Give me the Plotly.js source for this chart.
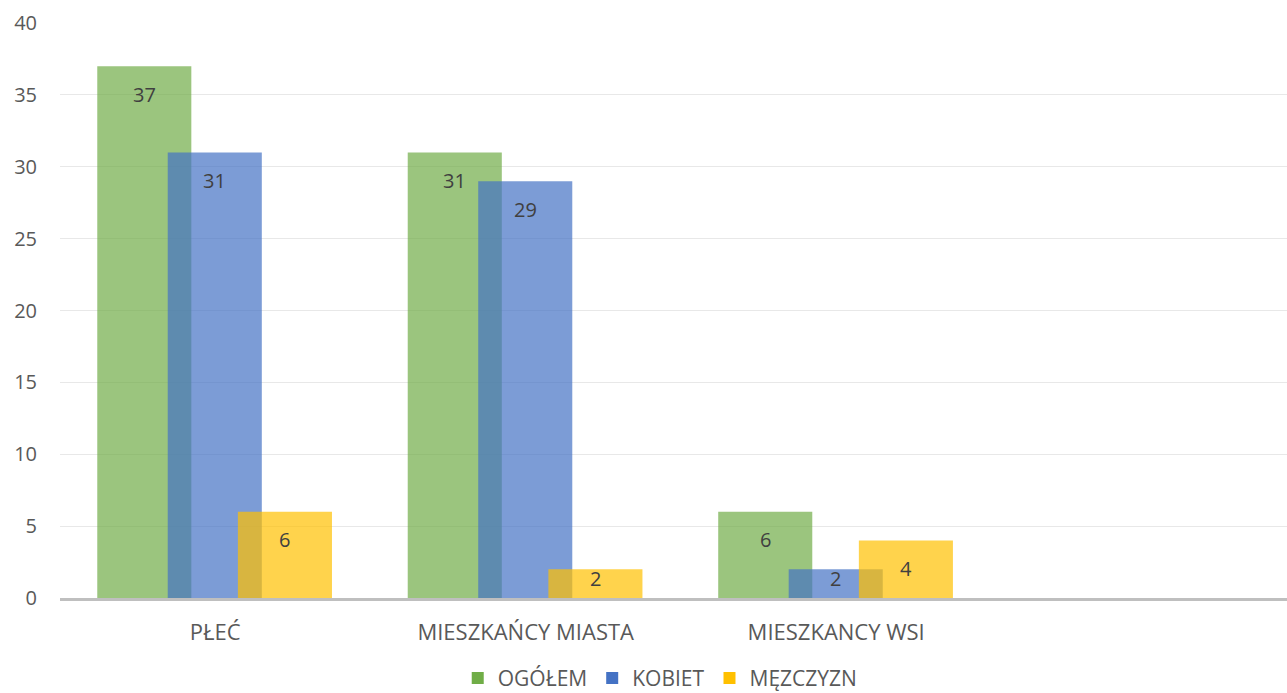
<!DOCTYPE html>
<html>
<head>
<meta charset="utf-8">
<script src="https://cdn.plot.ly/plotly-3.0.1.min.js"></script>
<style>
  html, body { margin: 0; padding: 0; background: #ffffff; }
  #chart { width: 1287px; height: 693px; }
</style>
</head>
<body>
<div id="chart"></div>
<script>
const categories = ['PŁEĆ', 'MIESZKAŃCY MIASTA', 'MIESZKANCY WSI'];
const seriesNames = ['OGÓŁEM', 'KOBIET', 'MĘZCZYZN'];
const ogolem = [37, 31, 6];
const kobiet = [31, 29, 2];
const mezczyzn = [6, 2, 4];
const yTicks = [0, 5, 10, 15, 20, 25, 30, 35, 40];

const seriesValues = [ogolem, kobiet, mezczyzn];
const colors = ['#70AD47', '#4472C4', '#FFC000'];
const barWidth = 0.303;
const offsets = [-0.380, -0.153, 0.073];
const FONT = '"Open Sans", "Noto Sans", sans-serif';

const traces = seriesValues.map((vals, s) => ({
  type: 'bar',
  name: seriesNames[s],
  x: categories,
  y: vals,
  width: barWidth,
  offset: offsets[s],
  marker: { color: colors[s], opacity: 0.7, line: { width: 0 } },
  hoverinfo: 'x+y+name'
}));

const plotH = 693 - 23 - 95;
const yMax = 40;
const annotations = [];
seriesValues.forEach((vals, s) => {
  vals.forEach((v, i) => {
    const hPx = v / yMax * plotH;
    const shift = Math.min(28, hPx - 20);
    annotations.push({
      x: i + offsets[s] + barWidth / 2,
      y: v,
      xref: 'x', yref: 'y',
      text: String(v),
      showarrow: false,
      yanchor: 'middle',
      yshift: -shift,
      font: { family: FONT, size: 20, color: '#404040' }
    });
  });
});

const layout = {
  width: 1287,
  height: 693,
  margin: { l: 60, r: 0, t: 23, b: 95, autoexpand: false },
  paper_bgcolor: '#ffffff',
  plot_bgcolor: '#ffffff',
  barmode: 'overlay',
  showlegend: true,
  legend: {
    orientation: 'h',
    x: 0.513, xanchor: 'center', xref: 'container',
    y: 0.021, yanchor: 'middle', yref: 'container',
    font: { family: FONT, size: 21, color: '#595959' },
    itemclick: false
  },
  xaxis: {
    type: 'category',
    categoryorder: 'array',
    categoryarray: categories,
    range: [-0.5, 3.452],
    showgrid: false,
    zeroline: false,
    showline: true,
    linecolor: '#BFBFBF',
    linewidth: 3,
    ticks: '',
    ticklabelstandoff: 13,
    tickfont: { family: FONT, size: 22, color: '#595959' },
    fixedrange: true
  },
  yaxis: {
    range: [0, 40],
    tickvals: yTicks,
    ticktext: yTicks.map(String),
    showgrid: true,
    gridcolor: '#E8E8E8',
    gridwidth: 1,
    zeroline: false,
    showline: false,
    ticks: '',
    ticklabelstandoff: 22,
    tickfont: { family: FONT, size: 20, color: '#595959' },
    fixedrange: true
  },
  annotations: annotations,
  font: { family: FONT, color: '#595959' }
};

Plotly.newPlot('chart', traces, layout, { displayModeBar: false, responsive: false });
</script>
</body>
</html>
